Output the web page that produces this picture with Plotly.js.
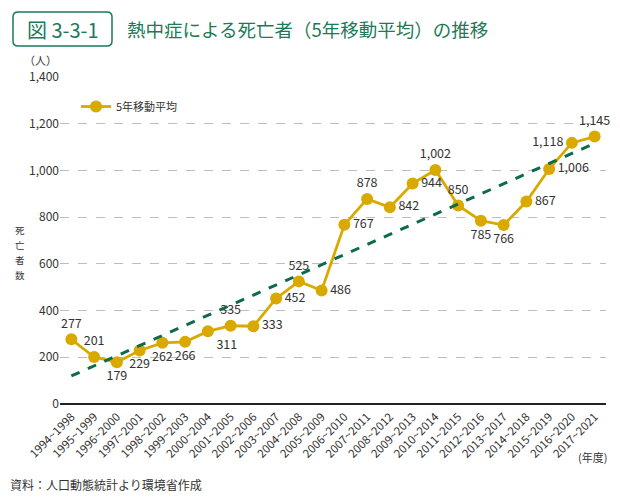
<!DOCTYPE html>
<html>
<head>
<meta charset="utf-8">
<script src="https://cdn.plot.ly/plotly-3.0.1.min.js"></script>
<style>
html,body{margin:0;padding:0;background:#fff;}
#chart{width:620px;height:501px;}
</style>
</head>
<body>
<div id="chart"></div>
<script>
const periods = ['1994~1998','1995~1999','1996~2000','1997~2001','1998~2002','1999~2003','2000~2004','2001~2005','2002~2006','2003~2007','2004~2008','2005~2009','2006~2010','2007~2011','2008~2012','2009~2013','2010~2014','2011~2015','2012~2016','2013~2017','2014~2018','2015~2019','2016~2020','2017~2021'];
const deaths = [277,201,179,229,262,266,311,335,333,452,525,486,767,878,842,944,1002,850,785,766,867,1006,1118,1145];
const labelPos = ['top center','top center','bottom center','bottom center','bottom center','bottom center','bottom right','top center','middle right','middle right','top center','middle right','middle right','top center','middle right','middle right','top center','top center','bottom center','bottom center','middle right','middle right','middle left','top center'];
const trendX = ['1994~1998','2017~2021'];
const trendY = [120, 1116];
const yLabelChars = ['死','亡','者','数'];

const font = "'Noto Sans CJK JP', 'Noto Sans', sans-serif";
const green = '#1b7a5a';
const gold = '#d9a900';

const data = [
  {
    x: periods, y: deaths, type: 'scatter', mode: 'lines+markers+text',
    name: '5年移動平均',
    line: {color: gold, width: 2.8},
    marker: {color: gold, size: 12},
    texttemplate: '%{y:,}',
    textposition: labelPos,
    textfont: {family: font, size: 12.5, color: '#333'},
    cliponaxis: false
  },
  {
    x: trendX, y: trendY, type: 'scatter', mode: 'lines',
    line: {color: '#0c6b4b', width: 3, dash: 'dash'},
    showlegend: false, hoverinfo: 'skip'
  }
];

function px2x(p){ return (p-60)/546; }
function px2y(p){ return (404-p)/327; }
const bx0=px2x(13), bx1=px2x(112), by0=px2y(46), by1=px2y(12);
const rx=5/546, ry=5/327;
const boxPath = `M ${bx0+rx} ${by1} L ${bx1-rx} ${by1} Q ${bx1} ${by1} ${bx1} ${by1-ry} L ${bx1} ${by0+ry} Q ${bx1} ${by0} ${bx1-rx} ${by0} L ${bx0+rx} ${by0} Q ${bx0} ${by0} ${bx0} ${by0+ry} L ${bx0} ${by1-ry} Q ${bx0} ${by1} ${bx0+rx} ${by1} Z`;

const annotations = [
  {xref: 'paper', yref: 'paper', x: (bx0+bx1)/2, y: (by0+by1)/2, xanchor: 'center', yanchor: 'middle',
   text: '図 3-3-1', showarrow: false, font: {family: font, size: 20, color: green}},
  {xref: 'paper', yref: 'paper', x: px2x(125), y: px2y(29), xanchor: 'left', yanchor: 'middle',
   text: '熱中症による死亡者（5年移動平均）の推移', showarrow: false, font: {family: font, size: 18.5, color: green}},
  {xref: 'paper', yref: 'paper', x: px2x(40), y: px2y(60), xanchor: 'center', yanchor: 'middle',
   text: '（人）', showarrow: false, font: {family: font, size: 11, color: '#333'}},
  {xref: 'paper', yref: 'paper', x: px2x(592), y: px2y(457), xanchor: 'center', yanchor: 'middle',
   text: '(年度)', showarrow: false, font: {family: font, size: 11, color: '#333'}},
  {xref: 'paper', yref: 'paper', x: px2x(8), y: px2y(484), xanchor: 'left', yanchor: 'middle',
   text: '資料：人口動態統計より環境省作成', showarrow: false, font: {family: font, size: 12, color: '#333'}}
];
yLabelChars.forEach((c, i) => {
  annotations.push({xref: 'paper', yref: 'paper', x: px2x(20), y: px2y(230 + i*15), xanchor: 'center', yanchor: 'middle',
    text: c, showarrow: false, borderpad: 0, font: {family: font, size: 9.5, color: '#333'}});
});

const layout = {
  width: 620, height: 501,
  margin: {l: 60, r: 14, t: 77, b: 97},
  paper_bgcolor: '#fff', plot_bgcolor: '#fff',
  font: {family: font, color: '#333', size: 12},
  xaxis: {
    type: 'category', categoryorder: 'array', categoryarray: periods, range: [-0.5, 23.5],
    tickangle: -45, tickfont: {family: font, size: 11.5, color: '#333'}, ticklabelstandoff: 3,
    showgrid: false, showline: false, zeroline: false, ticks: '', fixedrange: true
  },
  yaxis: {
    range: [0, 1400], dtick: 200, tickformat: ',',
    tickfont: {family: font, size: 12, color: '#333'},
    showgrid: true, gridcolor: '#bdbdbd', griddash: 'dash', gridwidth: 1,
    zeroline: true, zerolinecolor: '#222', zerolinewidth: 1.5,
    showline: false, ticks: '', fixedrange: true
  },
  legend: {
    x: px2x(76), y: px2y(92), xanchor: 'left', yanchor: 'top',
    font: {family: font, size: 11, color: '#333'}, bgcolor: 'rgba(0,0,0,0)'
  },
  shapes: [
    {type: 'path', xref: 'paper', yref: 'paper', path: boxPath,
     line: {color: green, width: 1.5}, fillcolor: 'rgba(0,0,0,0)'}
  ],
  annotations: annotations
};

Plotly.newPlot('chart', data, layout, {displayModeBar: false, staticPlot: true});
</script>
</body>
</html>
